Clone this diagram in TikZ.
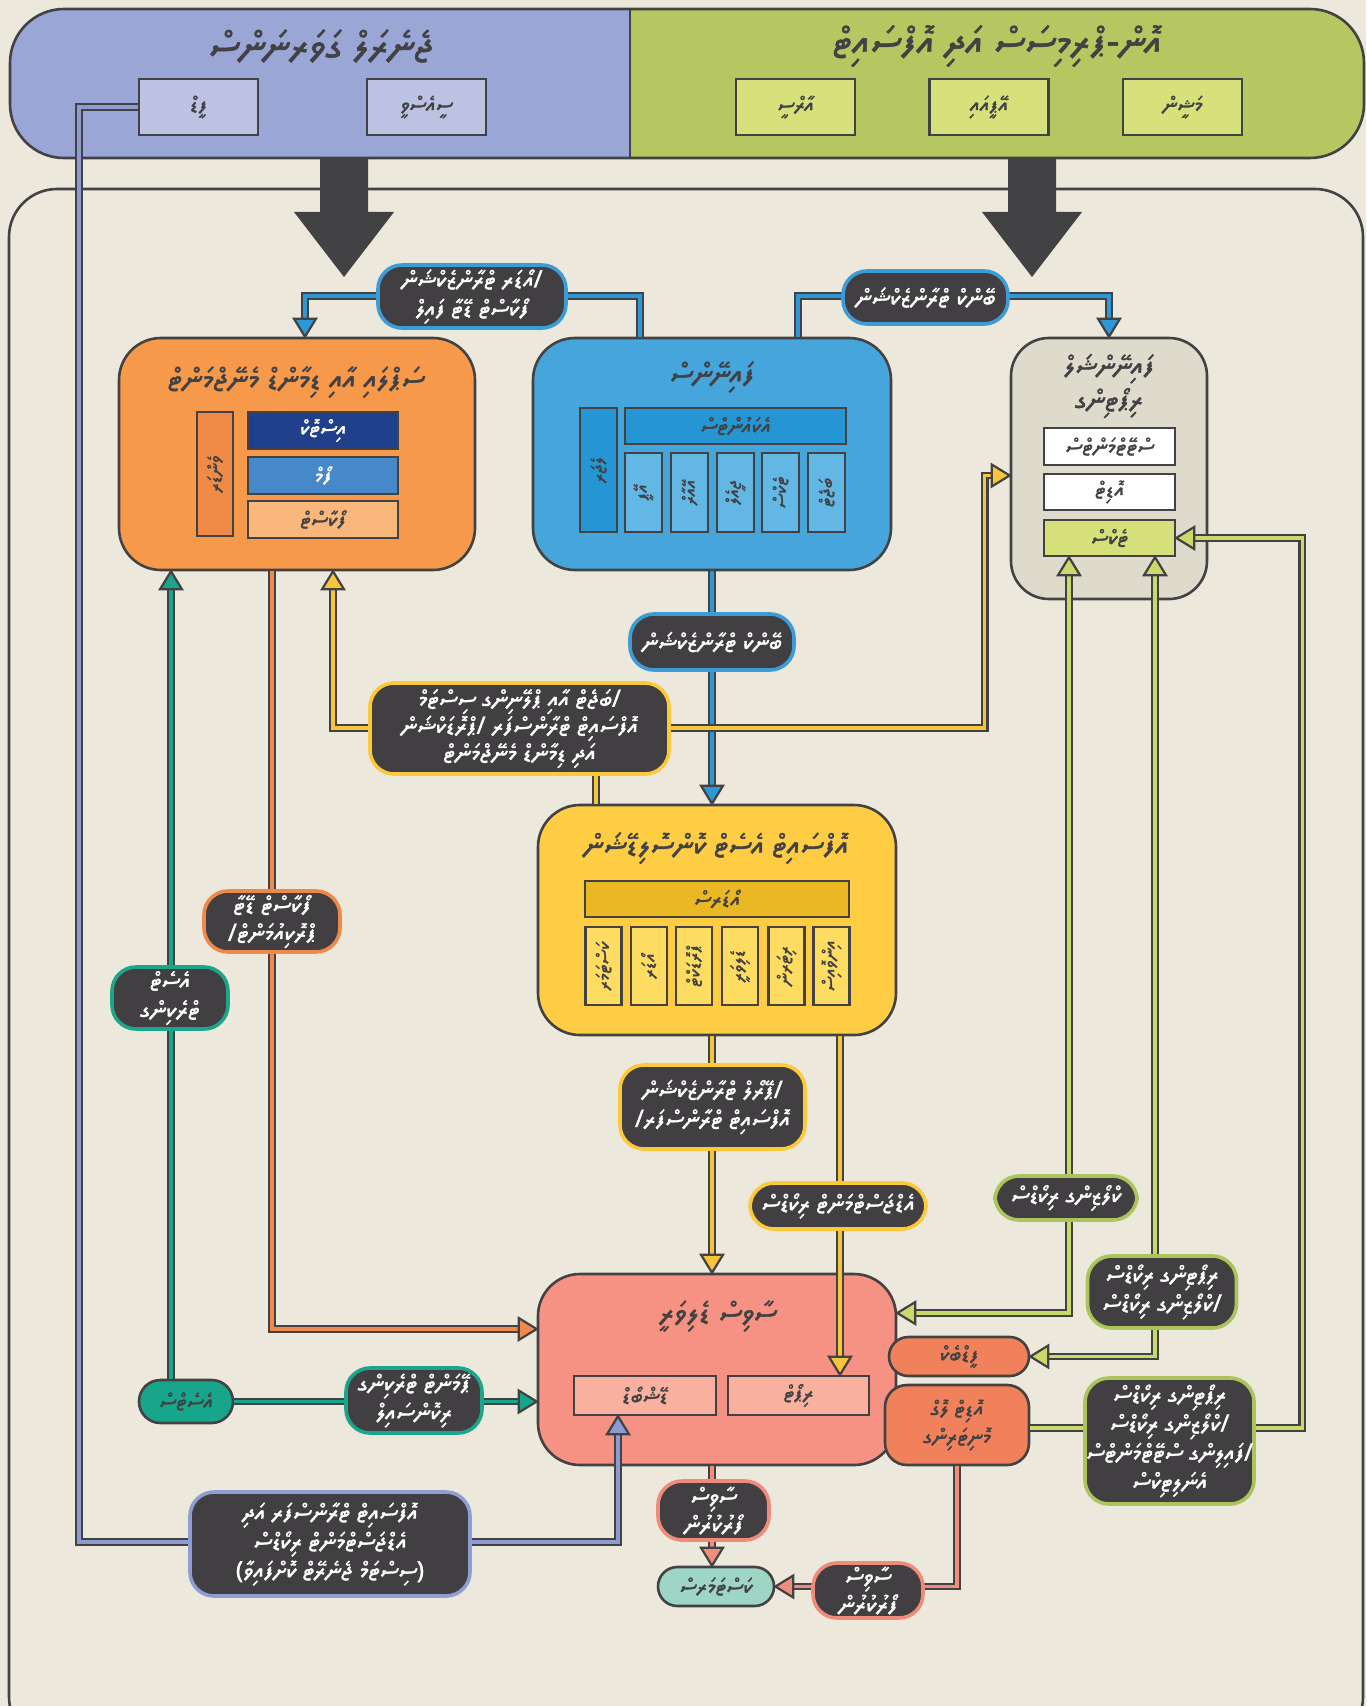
\documentclass[tikz,border=0pt]{standalone}
\usepackage{fontspec}
\usetikzlibrary{calc}
\TeXXeTstate=1
\IfFontExistsTF{Noto Sans Thaana}
  {\newfontfamily\thaana[Script=Thaana,AutoFakeBold=1.4]{Noto Sans Thaana}}
  {\IfFontExistsTF{FreeSerif}
    {\newfontfamily\thaana[Script=Thaana,AutoFakeBold=1.4]{FreeSerif}}
    {\newfontfamily\thaana{DejaVu Sans}}}
\newcommand\dv[1]{{\thaana\bfseries\beginR #1\endR}}
\definecolor{bg}{HTML}{ECE8DB}
\definecolor{dk}{HTML}{424143}
\definecolor{lb}{HTML}{413F41}
\definecolor{bandL}{HTML}{9AA6D5}
\definecolor{tlbox}{HTML}{BCC2E2}
\definecolor{bandR}{HTML}{B6C660}
\definecolor{trbox}{HTML}{D6E17B}
\definecolor{cOr}{HTML}{F6994A}
\definecolor{cOrBar}{HTML}{F08A47}
\definecolor{cNavy}{HTML}{21408B}
\definecolor{cMBlue}{HTML}{4788C9}
\definecolor{cLOr}{HTML}{F9B77C}
\definecolor{cBl}{HTML}{46A6DB}
\definecolor{cBlBar}{HTML}{2596D3}
\definecolor{cBlCol}{HTML}{63B7E5}
\definecolor{cGr}{HTML}{DEDBCD}
\definecolor{cGrn}{HTML}{D5E07A}
\definecolor{cYe}{HTML}{FECD44}
\definecolor{cYeBar}{HTML}{EAB823}
\definecolor{cYeCol}{HTML}{FEDC62}
\definecolor{cSa}{HTML}{F59283}
\definecolor{cSaIn}{HTML}{F8B19E}
\definecolor{cOp}{HTML}{F1815A}
\definecolor{cMint}{HTML}{9DD6C4}
\definecolor{cTeal}{HTML}{17A68B}
\definecolor{lnB}{HTML}{2E97D6}
\definecolor{lnY}{HTML}{F6C53A}
\definecolor{lnO}{HTML}{F08A4B}
\definecolor{lnT}{HTML}{17A68B}
\definecolor{lnG}{HTML}{C9DA6A}
\definecolor{lnS}{HTML}{F08D7E}
\definecolor{lnL}{HTML}{8E9BD2}
\definecolor{bB}{HTML}{3B9CD7}
\definecolor{bY}{HTML}{FCC93A}
\definecolor{bO}{HTML}{EE894A}
\definecolor{bT}{HTML}{1CA58B}
\definecolor{bG}{HTML}{ABC45B}
\definecolor{bS}{HTML}{EE8B7B}
\definecolor{bL}{HTML}{8F9DD3}
\newcommand\arrhd[3]{\filldraw[draw=dk,fill=#3,line width=1.1pt,line join=miter,shift={#1},rotate=#2] (0,0) -- (-18,-11) -- (-18,11) -- cycle;}
\begin{document}
\begin{tikzpicture}[x=0.5pt,y=-0.5pt,
  box/.style={draw=dk,line width=1.3pt,rounded corners=21pt,inner sep=0pt},
  sub/.style={draw=dk,line width=1.2pt,inner sep=0pt},
  lab/.style={draw=#1,fill=lb,line width=1.8pt,rounded corners=12pt,inner sep=0pt,align=center,text=white,font=\fontsize{12}{14.5}\selectfont},
  conn/.style={draw=dk,line width=1.1pt,double=#1,double distance=1.7pt,line join=miter},
  ttl/.style={font=\fontsize{15}{19}\selectfont,text=dk,align=center},
  itx/.style={font=\fontsize{11}{13}\selectfont,text=dk},
  vtx/.style={font=\fontsize{9.5}{11}\selectfont,text=dk,rotate=90},
]
\useasboundingbox (0,0) rectangle (1366,1706);
\clip (0,0) rectangle (1366,1706);
\fill[bg] (0,0) rectangle (1366,1706);

% outer frame
\draw[dk,line width=1.3pt,rounded corners=24pt] (9,189) rectangle (1363,1745);

% banner
\begin{scope}
\clip (0,0) rectangle (630,170);
\fill[bandL,rounded corners=27pt] (10,9) rectangle (1364,158);
\end{scope}
\begin{scope}
\clip (630,0) rectangle (1366,170);
\fill[bandR,rounded corners=27pt] (10,9) rectangle (1364,158);
\end{scope}
\draw[dk,line width=1.3pt,rounded corners=27pt] (10,9) rectangle (1364,158);
\draw[dk,line width=1.3pt] (630,9) -- (630,158);
\node[text=dk,font=\fontsize{20}{24}\selectfont] (tlT) at (321,46) {\dv{ޖެނެރަލް ގަވަރނަންސް}};
\node[text=dk,font=\fontsize{20}{24}\selectfont] (trT) at (997,46) {\dv{އޮން-ޕްރިމިސަސް އަދި އޮފްސައިޓް}};
\node[sub,fill=tlbox,minimum width=59.5pt,minimum height=28pt,itx] (tl1) at (198.5,107) {\dv{ފީޑް}};
\node[sub,fill=tlbox,minimum width=59.5pt,minimum height=28pt,itx] (tl2) at (426.5,107) {\dv{ސީއެސްވީ}};
\node[sub,fill=trbox,minimum width=59.5pt,minimum height=28pt,itx] (tr1) at (795.5,107) {\dv{އާރްސީ}};
\node[sub,fill=trbox,minimum width=59.5pt,minimum height=28pt,itx] (tr2) at (989,107) {\dv{އޭޕީއައި}};
\node[sub,fill=trbox,minimum width=59.5pt,minimum height=28pt,itx] (tr3) at (1182.5,107) {\dv{މަޝީން}};

% big arrows
\fill[dk] (320,158) -- (368,158) -- (368,212) -- (394,212) -- (344,277) -- (294,212) -- (320,212) -- cycle;
\fill[dk] (1008,158) -- (1056,158) -- (1056,212) -- (1082,212) -- (1032,277) -- (982,212) -- (1008,212) -- cycle;

% main boxes
\node[box,fill=cOr,minimum width=178pt,minimum height=116pt] (orange) at (297,454) {};
\node[box,fill=cBl,minimum width=179pt,minimum height=116pt] (blue) at (712,454) {};
\node[box,fill=cGr,rounded corners=19pt,minimum width=98pt,minimum height=130.5pt] (grey) at (1109,468.5) {};
\node[box,fill=cYe,minimum width=179pt,minimum height=115pt] (yellow) at (717,920) {};
\node[box,fill=cSa,minimum width=179pt,minimum height=95.5pt] (salmon) at (717,1369.5) {};
\node[box,fill=cOp,rounded corners=9.7pt,minimum width=70pt,minimum height=19.5pt] (op1) at (959,1356.5) {};
\node[box,fill=cOp,rounded corners=11pt,minimum width=72pt,minimum height=40pt] (op2) at (957,1425) {};
\node[box,fill=cMint,rounded corners=9.7pt,minimum width=58pt,minimum height=19.5pt] (mint) at (716,1586.5) {};
\node[box,fill=cTeal,rounded corners=10.7pt,minimum width=47pt,minimum height=21.5pt] (teal) at (186,1401.5) {};

% named points on connectors
\coordinate (L1c) at (472,296);
\coordinate (L2c) at (925.5,296);
\coordinate (L4c) at (519.5,728);
\coordinate (L15c) at (330,1542);

% orange contents
\node[ttl] (orT) at (296,382) {\dv{ސަޕްލައި އާއި ޑިމާންޑް މެނޭޖްމަންޓް}};
\node[sub,fill=cOrBar,minimum width=18pt,minimum height=62pt] (obar) at (215,474) {};
\node[vtx] (obarT) at (obar) {\dv{ވެންޑަރ}};
\node[sub,fill=cNavy,minimum width=75pt,minimum height=18.5pt,itx,text=white] (onv) at (323,430.5) {\dv{އިސްޓޮކް}};
\node[sub,fill=cMBlue,minimum width=75pt,minimum height=18.5pt,itx,text=white] (omb) at (323,475.5) {\dv{ފޯމް}};
\node[sub,fill=cLOr,minimum width=75pt,minimum height=18.5pt,itx] (olo) at (323,519.5) {\dv{ފޯކާސްޓް}};

% blue contents
\node[ttl] (blT) at (712,377) {\dv{ފައިނޭންސް}};
\node[sub,fill=cBlBar,minimum width=110.5pt,minimum height=18pt,itx] (btop) at (735.5,426) {\dv{އެކައުންޓްސް}};
\node[sub,fill=cBlBar,minimum width=18.5pt,minimum height=62pt] (bbar) at (598.5,470) {};
\node[vtx] (bbarT) at (bbar) {\dv{ލެޖަރ}};
\foreach \xx/\nm/\tx in {643.5/bc1/އޭޕީ,689.5/bc2/އޭއާރް,735.5/bc3/ޖީއެލް,780.5/bc4/ޓެކްސް,826.5/bc5/ބަޖެޓް}{
  \node[sub,fill=cBlCol,minimum width=18.5pt,minimum height=39.5pt] (\nm) at (\xx,492.5) {};
  \node[vtx] (\nm T) at (\nm) {\dv{\tx}};
}

% grey contents
\node[ttl,font=\fontsize{14}{17}\selectfont] (grT) at (1109,386) {\dv{ފައިނޭންޝަލް}\\\dv{ރިޕޯޓިންގ}};
\node[sub,fill=white,minimum width=65.5pt,minimum height=18.5pt,itx] (g1) at (1109.5,446.5) {\dv{ސްޓޭޓްމަންޓްސް}};
\node[sub,fill=white,minimum width=65.5pt,minimum height=18pt,itx] (g2) at (1109.5,492) {\dv{އޮޑިޓް}};
\node[sub,fill=cGrn,minimum width=65.5pt,minimum height=18pt,itx] (g3) at (1109.5,538) {\dv{ޓެކްސް}};

% yellow contents
\node[ttl] (yeT) at (716,848) {\dv{އޮފްސައިޓް އެސެޓް ކޮންސޮލިޑޭޝަން}};
\node[sub,fill=cYeBar,minimum width=132pt,minimum height=18pt,itx] (ytop) at (717,899) {\dv{އޯޑަރސް}};
\foreach \xx/\nm/\tx in {603.5/yc1/ކަސްޓަމަރ,649/yc2/އޯޑަރ,694/yc3/ޕްރޮޑަކްޓް,740/yc4/ޑެލިވަރީ,786.5/yc5/ރިޓަރން,831.5/yc6/އިންވޮއިސް}{
  \node[sub,fill=cYeCol,minimum width=18pt,minimum height=39pt] (\nm) at (\xx,966) {};
  \node[vtx] (\nm T) at (\nm) {\dv{\tx}};
}

% salmon contents
\node[ttl] (saT) at (718,1316) {\dv{ސާވިސް ޑެލިވަރީ}};
\node[sub,fill=cSaIn,minimum width=71pt,minimum height=19.5pt,itx] (s1) at (645,1395.5) {\dv{ޑޭޝްބޯޑް}};
\node[sub,fill=cSaIn,minimum width=70.5pt,minimum height=19.5pt,itx] (s2) at (798.5,1395.5) {\dv{ރިޕޯޓް}};
\node[itx] (op1T) at (op1) {\dv{ފީޑްބެކް}};
\node[itx,align=center,font=\fontsize{11}{14}\selectfont] (op2T) at (op2) {\dv{އޮޑިޓް ލޮގް}\\\dv{މޮނިޓަރިންގ}};
\node[itx] (mintT) at (mint) {\dv{ކަސްޓަމަރސް}};
\node[itx] (tealT) at (teal) {\dv{އެސެޓްސް}};

% connectors
\draw[conn=lnB,shorten >=8pt] ([xshift=-36pt]blue.north) |- (L1c) -| ([xshift=4pt]orange.north);
\draw[conn=lnB,shorten >=8pt] ([xshift=43pt]blue.north) |- (L2c) -| (grey.north);
\draw[conn=lnB,shorten >=8pt] (blue.south) -- (blue.south |- yellow.north);
\draw[conn=lnY] ([xshift=-60.5pt]yellow.north) -- ++(0,-40);
\draw[conn=lnY,shorten >=8pt] (L4c) -| ([xshift=18pt]orange.south);
\draw[conn=lnY,shorten >=8pt] (L4c) -| ($([yshift=-3.5pt]grey.west)+(-25,0)$) -- ([yshift=-3.5pt]grey.west);
\draw[conn=lnO,shorten >=8pt] ([xshift=-12.5pt]orange.south) |- ([yshift=20.25pt]salmon.west);
\draw[conn=lnT,shorten >=8pt] ([xshift=-7.5pt]teal.north) -- ([xshift=-7.5pt]teal.north |- orange.south);
\draw[conn=lnT,shorten >=8pt] (teal.east) -- (salmon.west |- teal.east);
\draw[conn=lnY,shorten >=8pt] ([xshift=-2.5pt]yellow.south) -- ([xshift=-2.5pt]salmon.north);
\draw[conn=lnY,shorten >=8pt] ([xshift=61.5pt]yellow.south) -- ([xshift=61.5pt]yellow.south |- s2.north);
\draw[conn=lnG,shorten >=8pt,shorten <=8pt] ([xshift=-20.25pt]g3.south) |- ([yshift=28.25pt]salmon.east);
\draw[conn=lnG,shorten >=8pt,shorten <=8pt] ([xshift=22.75pt]g3.south) |- (op1.east);
\draw[conn=lnG,shorten >=8pt] ($(op2.east)+(0,3)$) -- ++(272,0) |- (g3.east);
\draw[conn=lnL] (tl1.west) -- ++(-59,0) |- (L15c);
\draw[conn=lnL,shorten >=8pt] (L15c) -| ([xshift=-13.5pt]s1.south);
\draw[conn=lnS,shorten >=8pt] ([xshift=-2.5pt]salmon.south) -- ([xshift=-2.5pt]salmon.south |- mint.north);
\draw[conn=lnS,shorten >=8pt] (op2.south) |- (mint.east);

% arrowheads
\arrhd{([xshift=4pt]orange.north)}{-90}{lnB}
\arrhd{(grey.north)}{-90}{lnB}
\arrhd{(blue.south |- yellow.north)}{-90}{lnB}
\arrhd{([xshift=18pt]orange.south)}{90}{lnY}
\arrhd{([yshift=-3.5pt]grey.west)}{0}{lnY}
\arrhd{([yshift=20.25pt]salmon.west)}{0}{lnO}
\arrhd{([xshift=-7.5pt]teal.north |- orange.south)}{90}{lnT}
\arrhd{(salmon.west |- teal.east)}{0}{lnT}
\arrhd{([xshift=-2.5pt]salmon.north)}{-90}{lnY}
\arrhd{([xshift=61.5pt]yellow.south |- s2.north)}{-90}{lnY}
\arrhd{([xshift=-20.25pt]g3.south)}{90}{lnG}
\arrhd{([yshift=28.25pt]salmon.east)}{180}{lnG}
\arrhd{([xshift=22.75pt]g3.south)}{90}{lnG}
\arrhd{(op1.east)}{180}{lnG}
\arrhd{(g3.east)}{180}{lnG}
\arrhd{([xshift=-13.5pt]s1.south)}{90}{lnL}
\arrhd{([xshift=-2.5pt]salmon.south |- mint.north)}{-90}{lnS}
\arrhd{(mint.east)}{180}{lnS}

% labels
\node[lab=bB,minimum width=94pt,minimum height=31.5pt] (L1) at (472,296.5) {\dv{/އޯޑަރ ޓްރާންޒެކްޝަން}\\\dv{ފޯކާސްޓް ޑޭޓާ ފައިލް}};
\node[lab=bB,minimum width=82.5pt,minimum height=26.5pt] (L2) at (925.5,297.5) {\dv{ބޭންކް ޓްރާންޒެކްޝަން}};
\node[lab=bB,minimum width=82pt,minimum height=28pt] (L3) at (712,642) {\dv{ބޭންކް ޓްރާންޒެކްޝަން}};
\node[lab=bY,minimum width=149.5pt,minimum height=45.5pt,font=\fontsize{12}{13.5}\selectfont] (L4) at (519.5,728.5) {\dv{/ބަޖެޓް އާއި ޕްލޭނިންގ ސިސްޓަމް}\\\dv{އޮފްސައިޓް ޓްރާންސްފަރ /ޕްރޮޑަކްޝަން}\\\dv{އަދި ޑިމާންޑް މެނޭޖްމަންޓް}};
\node[lab=bO,minimum width=68pt,minimum height=30.5pt,font=\fontsize{12}{14}\selectfont] (L5) at (272,921.5) {\dv{ފޯކާސްޓް ޑޭޓާ}\\\dv{ޕްރޮކިއުމަންޓް/}};
\node[lab=bT,minimum width=58pt,minimum height=31pt] (L6) at (170,998) {\dv{އެސެޓް}\\\dv{ޓްރެކިންގ}};
\node[lab=bY,minimum width=92.5pt,minimum height=42pt] (L7) at (712.5,1107) {\dv{/ޕޭރޯލް ޓްރާންޒެކްޝަން}\\\dv{އޮފްސައިޓް ޓްރާންސްފަރ/}};
\node[lab=bY,minimum width=88pt,minimum height=23pt] (L8) at (838,1206) {\dv{އެޑްޖަސްޓްމަންޓް ރިކޯޑްސް}};
\node[lab=bG,minimum width=71pt,minimum height=22pt] (L9) at (1066,1198) {\dv{ކްލޯޒިންގ ރިކޯޑްސް}};
\node[lab=bG,minimum width=74.5pt,minimum height=36pt] (L10) at (1162,1292) {\dv{ރިޕޯޓިންގ ރިކޯޑްސް}\\\dv{/ކްލޯޒިންގ ރިކޯޑްސް}};
\node[lab=bG,minimum width=84.5pt,minimum height=63pt] (L11) at (1169.5,1441) {\dv{ރިޕޯޓިންގ ރިކޯޑްސް}\\\dv{/ކްލޯޒިންގ ރިކޯޑްސް}\\\dv{/ފައިލިންގ ސްޓޭޓްމަންޓްސް}\\\dv{އެނަލިޓިކްސް}};
\node[lab=bT,minimum width=68pt,minimum height=32.5pt] (L12) at (414,1400.5) {\dv{ޕޭމަންޓް ޓްރެކިންގ}\\\dv{ރިކޮންސައިލް}};
\node[lab=bS,minimum width=55.5pt,minimum height=29.5pt,font=\fontsize{12}{14}\selectfont] (L13) at (713.5,1510.5) {\dv{ސާވިސް}\\\dv{ފޯރުކުރުން}};
\node[lab=bS,minimum width=55pt,minimum height=27.5pt,font=\fontsize{12}{14}\selectfont] (L14) at (868,1590.5) {\dv{ސާވިސް}\\\dv{ފޯރުކުރުން}};
\node[lab=bL,minimum width=140pt,minimum height=52pt] (L15) at (330,1544) {\dv{އޮފްސައިޓް ޓްރާންސްފަރ އަދި}\\\dv{އެޑްޖަސްޓްމަންޓް ރިކޯޑްސް}\\\dv{(ސިސްޓަމް ޖެނެރޭޓް ކޮށްފައިވާ)}};
\end{tikzpicture}
\end{document}
